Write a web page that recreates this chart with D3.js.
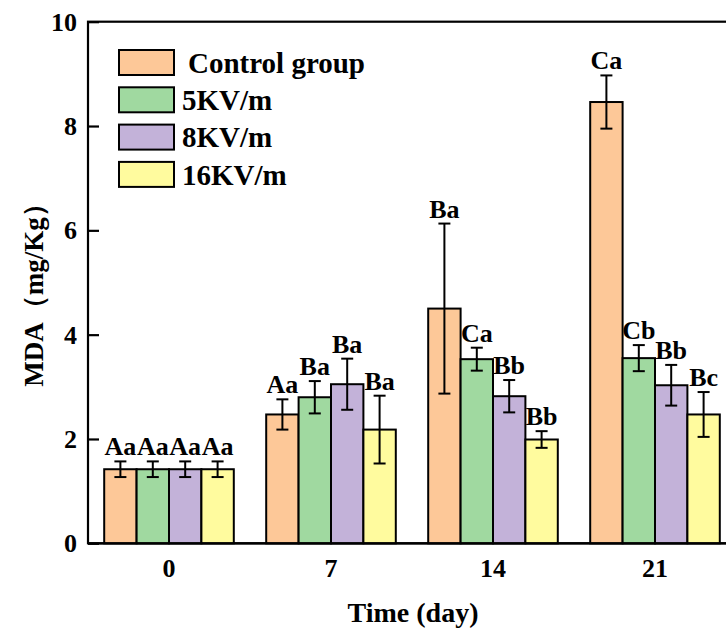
<!DOCTYPE html>
<html>
<head>
<meta charset="utf-8">
<script src="https://cdn.jsdelivr.net/npm/d3@7"></script>
<style>
  body { margin: 0; background: #fff; }
  text { font-family: "Times New Roman", "Liberation Serif", "DejaVu Serif", serif; font-weight: bold; fill: #000; }
</style>
</head>
<body>
<div id="chart"></div>
<script>
// MDA bar chart, four groups over storage time

const days = ["0", "7", "14", "21"];
const groups = ["Control group", "5KV/m", "8KV/m", "16KV/m"];
const colors = ["#fdc898", "#a0d9a0", "#c3b2d9", "#fffb9e"];

// values per group, one entry per day
const control = [1.42, 2.47, 4.50, 8.46];
const kv5     = [1.42, 2.80, 3.53, 3.55];
const kv8     = [1.42, 3.05, 2.82, 3.03];
const kv16    = [1.42, 2.18, 1.99, 2.47];

const controlErr = [0.15, 0.29, 1.63, 0.51];
const kv5Err     = [0.15, 0.31, 0.22, 0.25];
const kv8Err     = [0.15, 0.49, 0.31, 0.39];
const kv16Err    = [0.15, 0.65, 0.16, 0.43];

const controlLbl = ["Aa", "Aa", "Ba", "Ca"];
const kv5Lbl     = ["Aa", "Ba", "Ca", "Cb"];
const kv8Lbl     = ["Aa", "Ba", "Bb", "Bb"];
const kv16Lbl    = ["Aa", "Ba", "Bb", "Bc"];

const yTicks = [0, 2, 4, 6, 8, 10];

const series = [
  {vals: control, err: controlErr, lbl: controlLbl},
  {vals: kv5, err: kv5Err, lbl: kv5Lbl},
  {vals: kv8, err: kv8Err, lbl: kv8Lbl},
  {vals: kv16, err: kv16Err, lbl: kv16Lbl}
];

let data = [];
days.forEach((d, i) => {
  groups.forEach((g, j) => {
    data.push({day: d, group: g, value: series[j].vals[i], err: series[j].err[i], lbl: series[j].lbl[i], color: colors[j]});
  });
});

const width = 726, height = 632,
      margin = ({top: 21.7, right: -10, bottom: 88.7, left: 88});

let svg = d3.select("#chart")
    .append("svg")
    .attr("width", width)
    .attr("height", height);

let x = d3.scaleBand()
    .domain(days)
    .range([margin.left, width - margin.right])
    .paddingInner(0.2)
    .paddingOuter(0.1);

let xSub = d3.scaleBand()
    .domain(groups)
    .range([0, x.bandwidth()]);

let y = d3.scaleLinear()
    .domain([0, 10])
    .range([height - margin.bottom, margin.top]);

// frame
svg.append("rect")
    .attr("x", margin.left)
    .attr("y", y(10))
    .attr("width", width - margin.right - margin.left)
    .attr("height", y(0) - y(10))
    .attr("fill", "none")
    .attr("stroke", "#000")
    .attr("stroke-width", 2.2);

// y axis
const yAxis = g => g
    .attr("transform", `translate(${margin.left},0)`)
    .call(d3.axisRight(y).tickValues(yTicks).tickSize(11).tickFormat(""))
    .call(g => g.select(".domain").remove())
    .call(g => g.selectAll(".tick line").attr("stroke-width", 2.2));

svg.append("g").call(yAxis);

svg.append("g")
  .selectAll("text")
  .data(yTicks)
  .join("text")
    .attr("x", margin.left - 11)
    .attr("y", d => y(d))
    .attr("dy", "0.35em")
    .attr("text-anchor", "end")
    .attr("font-size", 26)
    .text(d => d);

// x tick labels
svg.append("g")
  .selectAll("text")
  .data(days)
  .join("text")
    .attr("x", d => x(d) + x.bandwidth() / 2)
    .attr("y", y(0) + 34)
    .attr("text-anchor", "middle")
    .attr("font-size", 26)
    .text(d => d);

// bars
let bar = svg.selectAll(".bar")
    .data(data)
    .join("g")
    .attr("class", "bar")
    .attr("transform", d => `translate(${x(d.day) + xSub(d.group)},0)`);

bar.append("rect")
    .attr("x", 0)
    .attr("y", d => y(d.value))
    .attr("width", xSub.bandwidth())
    .attr("height", d => y(0) - y(d.value))
    .attr("fill", d => d.color)
    .attr("stroke", "#000")
    .attr("stroke-width", 2);

const cx = xSub.bandwidth() / 2;

bar.append("line")
    .attr("x1", cx).attr("x2", cx)
    .attr("y1", d => y(d.value - d.err))
    .attr("y2", d => y(d.value + d.err))
    .attr("stroke", "#000").attr("stroke-width", 2);

bar.append("line")
    .attr("x1", cx - 6).attr("x2", cx + 6)
    .attr("y1", d => y(d.value + d.err))
    .attr("y2", d => y(d.value + d.err))
    .attr("stroke", "#000").attr("stroke-width", 2);

bar.append("line")
    .attr("x1", cx - 6).attr("x2", cx + 6)
    .attr("y1", d => y(d.value - d.err))
    .attr("y2", d => y(d.value - d.err))
    .attr("stroke", "#000").attr("stroke-width", 2);

bar.append("text")
    .attr("x", cx)
    .attr("y", d => y(d.value + d.err) - 6)
    .attr("text-anchor", "middle")
    .attr("font-size", 26)
    .text(d => d.lbl);

// x axis baseline
svg.append("line")
    .attr("x1", margin.left).attr("x2", width)
    .attr("y1", y(0)).attr("y2", y(0))
    .attr("stroke", "#000").attr("stroke-width", 2.2);

// legend
let legend = svg.append("g")
  .selectAll("g")
  .data(groups)
  .join("g")
    .attr("transform", (d, i) => `translate(119,${50 + i * 37.3})`);

legend.append("rect")
    .attr("width", 55)
    .attr("height", 25)
    .attr("fill", (d, i) => colors[i])
    .attr("stroke", "#000")
    .attr("stroke-width", 2);

legend.append("text")
    .attr("x", (d, i) => i == 0 ? 69 : 63)
    .attr("y", 12.5)
    .attr("dy", "0.35em")
    .attr("font-size", 29)
    .text(d => d);

// axis titles
svg.append("text")
    .attr("transform", `translate(43,${(y(0) + y(10)) / 2 + 6}) rotate(-90)`)
    .attr("text-anchor", "middle")
    .attr("font-size", 27)
    .text("MDA（mg/Kg）");

svg.append("text")
    .attr("x", 413)
    .attr("y", 622)
    .attr("text-anchor", "middle")
    .attr("font-size", 28)
    .text("Time (day)");
</script>
</body>
</html>
